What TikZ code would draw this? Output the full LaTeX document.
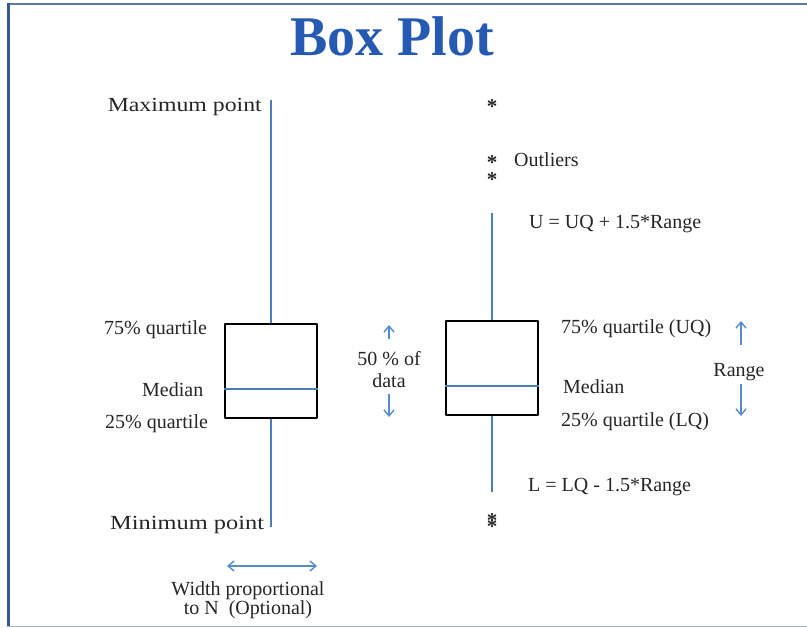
\documentclass[tikz,border=0pt]{standalone}
\usepackage{fontspec}
\setmainfont{Liberation Serif}
\usetikzlibrary{arrows.meta}
\definecolor{lineblue}{RGB}{74,126,187}
\definecolor{arrowblue}{RGB}{84,140,205}
\definecolor{titleblue}{RGB}{38,90,178}
\definecolor{frameblue}{RGB}{55,88,145}
\definecolor{framelight}{RGB}{160,176,205}
\tikzset{
  lbl/.style={font=\fontsize{20}{22}\selectfont, inner sep=0pt, text=black!85},
  boxnode/.style={draw=black, line width=2.6pt, minimum width=92pt, minimum height=94pt, inner sep=0pt, line join=round},
  whisk/.style={draw=lineblue, line width=1.6pt},
  medline/.style={draw=lineblue, line width=1.4pt},
  barrow/.style={draw=arrowblue, line width=1.4pt, -{Straight Barb[length=6pt,width=10pt]}},
  dbarrow/.style={draw=arrowblue, line width=1.4pt, {Straight Barb[length=6pt,width=10pt]}-{Straight Barb[length=6pt,width=10pt]}},
  star/.style={font=\fontsize{21}{21}\selectfont\bfseries, inner sep=0pt, anchor=base, text=black!85}
}
\begin{document}
\begin{tikzpicture}[x=1pt,y=-1pt]
\useasboundingbox (0,0) rectangle (807,628);
% frame
\draw[frameblue!80, line width=2pt] (7,4.5) -- (807,4.5);
\draw[frameblue, line width=3pt] (8.5,3.5) -- (8.5,627);
\draw[framelight, line width=1.5pt] (7,626.5) -- (807,626.5);
% title
\node[font=\fontsize{56}{56}\selectfont\bfseries, text=titleblue, anchor=base, inner sep=0pt] (title) at (392,56) {Box Plot};

% left box plot
\node[boxnode] (lbox) at (271,371) {};
\coordinate (lmax) at (271,100);
\coordinate (lmin) at (271,527);
\draw[whisk] (lmax) -- (lbox.north);
\draw[whisk] (lbox.south) -- (lmin);
\draw[medline] ([yshift=-18pt]lbox.west) -- ([yshift=-18pt]lbox.east);

\node[lbl, anchor=mid east] (maxl) at (262,109) {\scalebox{1.19}[1]{Maximum point}};
\node[lbl, anchor=mid west] (q75l) at (104,332) {75\% quartile};
\node[lbl, anchor=mid west] (medl) at (142,394) {Median};
\node[lbl, anchor=mid west] (q25l) at (105,426) {25\% quartile};
\node[lbl, anchor=mid west] (minl) at (110,527) {\scalebox{1.22}[1]{Minimum point}};

% 50% of data
\node[lbl, align=center] (fifty) at (389,370) {50 \% of\\data};
\coordinate (fu1) at (389,339);
\coordinate (fu2) at (389,325);
\coordinate (fd1) at (389,394);
\coordinate (fd2) at (389,417);
\draw[barrow] (fu1) -- (fu2);
\draw[barrow] (fd1) -- (fd2);

% width arrow
\coordinate (wl) at (227,566);
\coordinate (wr) at (317,566);
\draw[dbarrow] (wl) -- (wr);
\node[lbl, align=center, font=\fontsize{20}{19.5}\selectfont] (widthl) at (248,600) {Width proportional\\to N~~(Optional)};

% right box plot
\node[boxnode] (rbox) at (492,368) {};
\coordinate (rmax) at (492,213);
\coordinate (rmin) at (492,492);
\draw[whisk] (rmax) -- (rbox.north);
\draw[whisk] (rbox.south) -- (rmin);
\draw[medline] ([yshift=-18pt]rbox.west) -- ([yshift=-18pt]rbox.east);

% outliers
\node[star] (s1) at (492,114) {*};
\node[star] (s2) at (492,170) {*};
\node[star] (s3) at (492,187) {*};
\node[star] (s4) at (492,528) {\rlap{*}\raisebox{-6pt}{*}};

\node[lbl, anchor=mid west] (outl) at (514,164) {Outliers};
\node[lbl, anchor=mid west] (uf) at (529,226) {U = UQ + 1.5*Range};
\node[lbl, anchor=mid west] (q75r) at (561,331) {75\% quartile (UQ)};
\node[lbl, anchor=mid west] (medr) at (563,391) {Median};
\node[lbl, anchor=mid west] (q25r) at (561,424) {25\% quartile (LQ)};
\node[lbl, anchor=mid west] (lf) at (528,489) {L = LQ - 1.5*Range};

% range
\node[lbl] (rangel) at (739,372) {Range};
\coordinate (ru1) at (741,345);
\coordinate (ru2) at (741,321);
\coordinate (rd1) at (741,384);
\coordinate (rd2) at (741,416);
\draw[barrow] (ru1) -- (ru2);
\draw[barrow] (rd1) -- (rd2);
\end{tikzpicture}
\end{document}
